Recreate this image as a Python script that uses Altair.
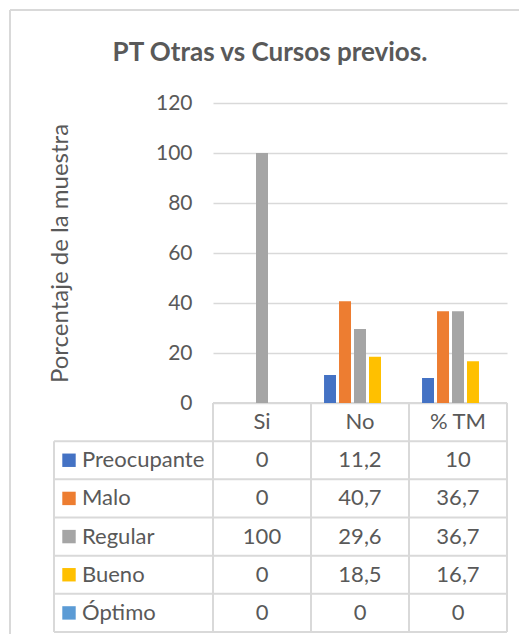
import altair as alt
import pandas as pd

# ---------------- data ----------------
categorias = ["Si", "No", "% TM"]
series = ["Preocupante", "Malo", "Regular", "Bueno", "Óptimo"]
colores = ["#4472C4", "#ED7D31", "#A5A5A5", "#FFC000", "#5B9BD5"]
preocupante = [0, 11.2, 10]
malo = [0, 40.7, 36.7]
regular = [100, 29.6, 36.7]
bueno = [0, 18.5, 16.7]
optimo = [0, 0, 0]
marcas_y = [0, 20, 40, 60, 80, 100, 120]
titulo = "PT Otras vs Cursos previos."
titulo_y = "Porcentaje de la muestra"

# ---------------- style ----------------
FONT = "Lato"
FS_TICK = 21
FS_TAB = 22
FS_AXT = 24
FS_TIT = 26
GRIS_TXT = "#595959"
GRIS_LIN = "#d9d9d9"
W, H = 294, 300

valores = [preocupante, malo, regular, bueno, optimo]
filas = []
for i, (s, vals) in enumerate(zip(series, valores)):
    for c, v in zip(categorias, vals):
        filas.append({"serie": s, "cat": c, "valor": v, "fila": i + 1.5,
                      "texto": f"{v:g}".replace(".", ",")})
df = pd.DataFrame(filas)
df_series = pd.DataFrame({"serie": series, "fila": [i + 1.5 for i in range(len(series))]})
df_cats = pd.DataFrame({"cat": categorias, "fila": [0.5] * len(categorias)})
n_filas = len(series) + 1
df_h0 = pd.DataFrame({"k": [0]})
df_h = pd.DataFrame({"k": list(range(1, n_filas + 1))})
df_v = pd.DataFrame({"cat": categorias, "k0": [0] * len(categorias), "k1": [n_filas] * len(categorias)})
df_v_fin = pd.DataFrame({"cat": [categorias[-1]], "k0": [0], "k1": [n_filas]})
df_v_izq = pd.DataFrame({"k0": [1], "k1": [n_filas]})
df_uno = pd.DataFrame({"t": [titulo]})

x_cat = alt.Scale(domain=categorias, paddingInner=0, paddingOuter=0)
y_tab = alt.Scale(domain=[0, n_filas], range=[300, 529])
col = alt.Scale(domain=series, range=colores)

lin = dict(color=GRIS_LIN, strokeWidth=2)

marco_izq = alt.Chart(df_uno).mark_rule(**lin).encode(
    x=alt.value(-203), y=alt.value(-93), y2=alt.value(640))
marco_sup = alt.Chart(df_uno).mark_rule(**lin).encode(
    x=alt.value(-203), x2=alt.value(330), y=alt.value(-93))

h0 = alt.Chart(df_h0).mark_rule(**lin).encode(
    x=alt.value(0), x2=alt.value(W), y=alt.Y("k:Q", scale=y_tab, axis=None))
h = alt.Chart(df_h).mark_rule(**lin).encode(
    x=alt.value(-159), x2=alt.value(W), y=alt.Y("k:Q", scale=y_tab, axis=None))
v = alt.Chart(df_v).mark_rule(**lin).encode(
    x=alt.X("cat:N", scale=x_cat, axis=None, bandPosition=0),
    y=alt.Y("k0:Q", scale=y_tab, axis=None), y2="k1:Q")
v_fin = alt.Chart(df_v_fin).mark_rule(**lin).encode(
    x=alt.X("cat:N", scale=x_cat, axis=None, bandPosition=1),
    y=alt.Y("k0:Q", scale=y_tab, axis=None), y2="k1:Q")
v_izq = alt.Chart(df_v_izq).mark_rule(**lin).encode(
    x=alt.value(-159), y=alt.Y("k0:Q", scale=y_tab, axis=None), y2="k1:Q")

barras = alt.Chart(df).mark_bar().encode(
    x=alt.X("cat:N", scale=x_cat, axis=None),
    xOffset=alt.XOffset("serie:N", scale=alt.Scale(domain=series, paddingInner=0.2, paddingOuter=0.87)),
    y=alt.Y("valor:Q", scale=alt.Scale(domain=[0, 120]),
            axis=alt.Axis(values=marcas_y, grid=True, gridColor=GRIS_LIN, gridWidth=1.5,
                          domain=False, ticks=False, labelPadding=21, labelFont=FONT,
                          labelFontSize=FS_TICK, labelColor=GRIS_TXT,
                          title=titulo_y, titleFont=FONT, titleFontSize=FS_AXT,
                          titleFontWeight="normal", titleColor=GRIS_TXT, titleAngle=-90,
                          titleX=-153, titleY=150, titleAlign="center",
                          titleBaseline="middle")),
    color=alt.Color("serie:N", scale=col, legend=None))

cabecera = alt.Chart(df_cats).mark_text(font=FONT, fontSize=FS_TAB, color=GRIS_TXT).encode(
    x=alt.X("cat:N", scale=x_cat, axis=None),
    y=alt.Y("fila:Q", scale=y_tab, axis=None), text="cat:N")
celdas = alt.Chart(df).mark_text(font=FONT, fontSize=FS_TAB, color=GRIS_TXT).encode(
    x=alt.X("cat:N", scale=x_cat, axis=None),
    y=alt.Y("fila:Q", scale=y_tab, axis=None), text="texto:N")
etiquetas = alt.Chart(df_series).mark_text(font=FONT, fontSize=FS_TAB, color=GRIS_TXT, align="left").encode(
    x=alt.value(-131), y=alt.Y("fila:Q", scale=y_tab, axis=None), text="serie:N")
cuadros = alt.Chart(df_series).mark_square(size=180, opacity=1).encode(
    x=alt.value(-144), y=alt.Y("fila:Q", scale=y_tab, axis=None),
    color=alt.Color("serie:N", scale=col, legend=None))

tit = alt.Chart(df_uno).mark_text(font=FONT, fontSize=FS_TIT, fontWeight="bold", color=GRIS_TXT).encode(
    x=alt.value(57), y=alt.value(-50), text="t:N")

chart = alt.layer(
    marco_izq, marco_sup, h0, h, v, v_fin, v_izq, barras, cabecera, celdas, etiquetas, cuadros, tit
).resolve_scale(y="independent").properties(
    width=W, height=H,
    autosize=alt.AutoSizeParams(type="none"),
    padding={"left": 205, "top": 95, "right": 12, "bottom": 231},
).configure_view(strokeWidth=0)

chart.save("out.html", embed_options={"renderer": "svg", "actions": False})
